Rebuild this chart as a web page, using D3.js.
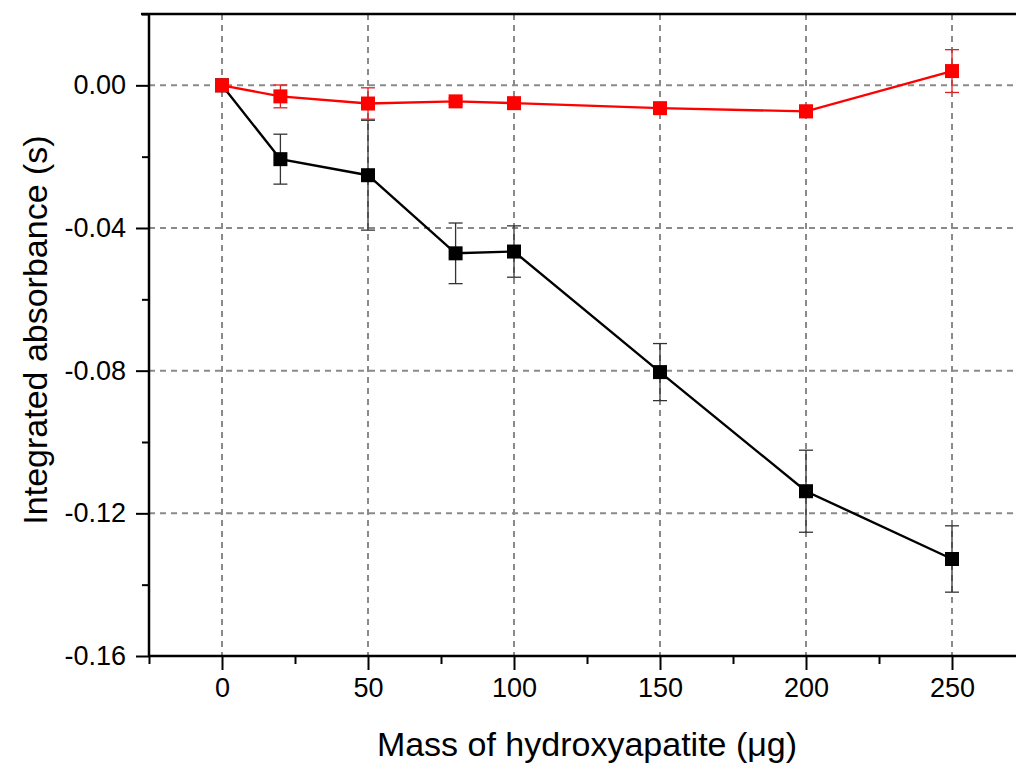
<!DOCTYPE html>
<html>
<head>
<meta charset="utf-8">
<script src="https://cdn.jsdelivr.net/npm/d3@7"></script>
<style>
  html, body { margin: 0; padding: 0; background: #fff; }
  svg { display: block; }
  text { font-family: "Liberation Sans", Arial, sans-serif; fill: #000; }
</style>
</head>
<body>
<svg id="chart" width="1016" height="767"></svg>
<script>
// Hydroxyapatite mass (µg)
const mass = [0, 20, 50, 80, 100, 150, 200, 250];
// Integrated absorbance (s), black series, with error
const blackVals = [0, -0.0207, -0.0252, -0.0471, -0.0466, -0.0804, -0.1138, -0.1328];
const blackErr  = [0, 0.0070, 0.0154, 0.0085, 0.0072, 0.0080, 0.0115, 0.0093];
// Integrated absorbance (s), red series, with error
const redVals = [0, -0.0031, -0.0051, -0.0045, -0.0050, -0.0064, -0.0073, 0.0040];
const redErr  = [0.0005, 0.0032, 0.0044, 0.0008, 0.0008, 0.0010, 0.0017, 0.0060];

const xTicks = [0, 50, 100, 150, 200, 250];
const xMinor = [-25, 25, 75, 125, 175, 225, 275];
const yTicks = [0, -0.04, -0.08, -0.12, -0.16];
const yMinor = [0.02, -0.02, -0.06, -0.10, -0.14];

const svg = d3.select("#chart");
const plotL = 149, plotR = 1025, plotT = 14, plotB = 656;

const x = d3.scaleLinear().domain([-25, 275]).range([plotL, plotR]);
const y = d3.scaleLinear().domain([-0.16, 0.02]).range([plotB, plotT]);

// dashed grid
const grid = svg.append("g").attr("stroke", "#8a8a8a").attr("stroke-width", 2)
  .attr("stroke-dasharray", "6,5");
grid.selectAll("line.v").data(xTicks).join("line").attr("class", "v")
  .attr("x1", d => x(d)).attr("x2", d => x(d))
  .attr("y1", plotT).attr("y2", plotB);
grid.selectAll("line.h").data([0, -0.04, -0.08, -0.12]).join("line").attr("class", "h")
  .attr("y1", d => y(d)).attr("y2", d => y(d))
  .attr("x1", plotL).attr("x2", plotR);

// axes
const fmtY = d => d3.format(".2f")(d).replace("\u2212", "-");
const xAxis = d3.axisBottom(x).tickValues(xTicks).tickFormat(d3.format("d"))
  .tickSize(14).tickPadding(8);
const xAxisMinor = d3.axisBottom(x).tickValues(xMinor).tickFormat("").tickSize(8);
const yAxis = d3.axisLeft(y).tickValues(yTicks).tickFormat(fmtY)
  .tickSize(13).tickPadding(10);
const yAxisMinor = d3.axisLeft(y).tickValues(yMinor).tickFormat("").tickSize(7);

function styleAxis(g) {
  g.select(".domain").remove();
  g.selectAll("line").attr("stroke", "#000").attr("stroke-width", 2);
  g.selectAll("text").attr("font-size", 27).attr("font-family", "Liberation Sans, Arial, sans-serif");
}

svg.append("g").attr("transform", `translate(0,${plotB})`).call(xAxisMinor).call(styleAxis);
svg.append("g").attr("transform", `translate(0,${plotB})`).call(xAxis).call(styleAxis);
svg.append("g").attr("transform", `translate(${plotL},0)`).call(yAxisMinor).call(styleAxis);
svg.append("g").attr("transform", `translate(${plotL},0)`).call(yAxis).call(styleAxis);

// axis lines
svg.append("line").attr("x1", plotL).attr("x2", 1016).attr("y1", plotB).attr("y2", plotB)
  .attr("stroke", "#000").attr("stroke-width", 2.5);
svg.append("line").attr("x1", plotL).attr("x2", plotL).attr("y1", plotT).attr("y2", plotB)
  .attr("stroke", "#000").attr("stroke-width", 2.5);
svg.append("line").attr("x1", 141).attr("x2", 1016).attr("y1", plotT).attr("y2", plotT)
  .attr("stroke", "#000").attr("stroke-width", 2.5);

// series
function drawSeries(vals, errs, color, errColor) {
  const pts = mass.map((m, i) => ({ m, v: vals[i], e: errs[i] }));
  const g = svg.append("g");
  g.append("path").datum(pts)
    .attr("fill", "none").attr("stroke", color).attr("stroke-width", 2.4)
    .attr("d", d3.line().x(d => x(d.m)).y(d => y(d.v)));
  const eb = g.append("g").attr("stroke", errColor).attr("stroke-width", 1.3);
  pts.forEach(d => {
    const cx = x(d.m), y1 = y(d.v + d.e), y2 = y(d.v - d.e);
    eb.append("line").attr("x1", cx).attr("x2", cx).attr("y1", y1).attr("y2", y2);
    eb.append("line").attr("x1", cx - 7).attr("x2", cx + 7).attr("y1", y1).attr("y2", y1);
    eb.append("line").attr("x1", cx - 7).attr("x2", cx + 7).attr("y1", y2).attr("y2", y2);
  });
  g.selectAll("rect").data(pts).join("rect")
    .attr("x", d => x(d.m) - 7).attr("y", d => y(d.v) - 7)
    .attr("width", 14).attr("height", 14).attr("fill", color);
}
drawSeries(blackVals, blackErr, "#000000", "#333333");
drawSeries(redVals, redErr, "#ff0000", "#e02020");

// axis titles
svg.append("text").attr("x", 587).attr("y", 756).attr("text-anchor", "middle")
  .attr("font-size", 34).text("Mass of hydroxyapatite (μg)");
svg.append("text").attr("transform", "translate(47,330) rotate(-90)")
  .attr("text-anchor", "middle").attr("font-size", 34).text("Integrated absorbance (s)");
</script>
</body>
</html>
